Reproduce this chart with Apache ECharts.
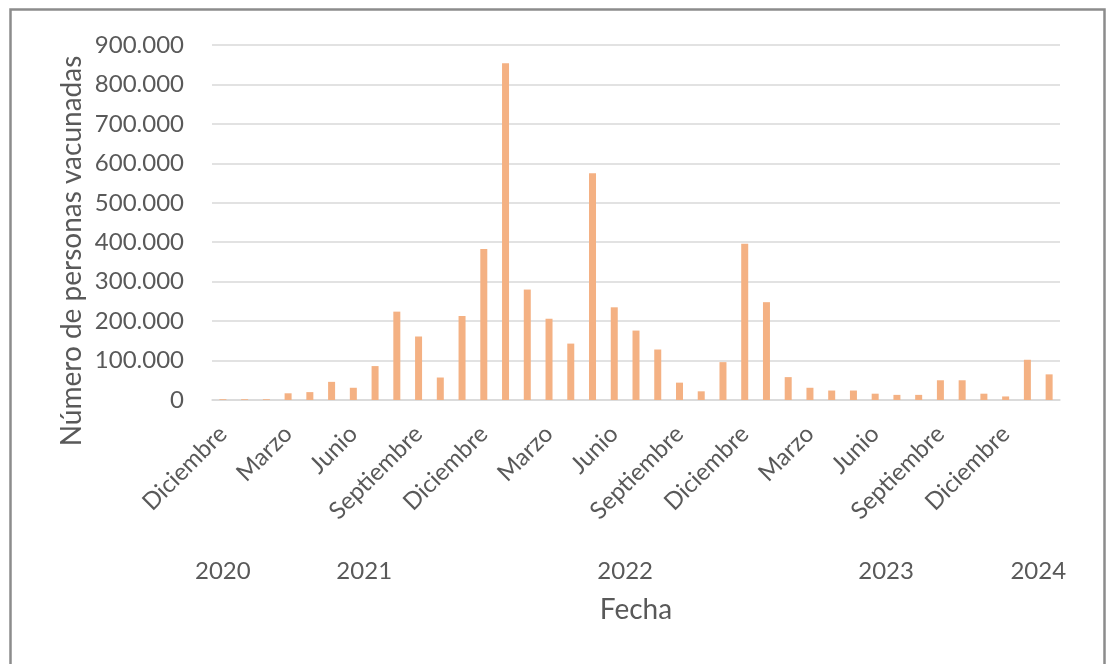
<!DOCTYPE html>
<html>
<head>
<meta charset="utf-8">
<script src="https://cdn.jsdelivr.net/npm/echarts@6/dist/echarts.min.js"></script>
<style>
  html, body { margin: 0; padding: 0; background: #ffffff; }
  #chart { width: 1111px; height: 664px; }
</style>
</head>
<body>
<div id="chart"></div>
<script>
// Monthly categories, December 2020 to February 2024
const months = [
  'Diciembre',
  'Enero', 'Febrero', 'Marzo', 'Abril', 'Mayo', 'Junio', 'Julio', 'Agosto', 'Septiembre', 'Octubre', 'Noviembre', 'Diciembre',
  'Enero', 'Febrero', 'Marzo', 'Abril', 'Mayo', 'Junio', 'Julio', 'Agosto', 'Septiembre', 'Octubre', 'Noviembre', 'Diciembre',
  'Enero', 'Febrero', 'Marzo', 'Abril', 'Mayo', 'Junio', 'Julio', 'Agosto', 'Septiembre', 'Octubre', 'Noviembre', 'Diciembre',
  'Enero', 'Febrero'
];
const monthYears = [
  2020,
  2021, 2021, 2021, 2021, 2021, 2021, 2021, 2021, 2021, 2021, 2021, 2021,
  2022, 2022, 2022, 2022, 2022, 2022, 2022, 2022, 2022, 2022, 2022, 2022,
  2023, 2023, 2023, 2023, 2023, 2023, 2023, 2023, 2023, 2023, 2023, 2023,
  2024, 2024
];

// People vaccinated per month
const vaccinated = [
  2000,
  2000, 2000, 17000, 20000, 46000, 31000, 86000, 224000, 161000, 57000, 213000, 383000,
  854000, 280000, 206000, 143000, 575000, 235000, 176000, 128000, 44000, 22000, 96000, 396000,
  248000, 58000, 31000, 24000, 24000, 16000, 13000, 13000, 50000, 50000, 16000, 9000,
  102000, 65000
];

// Year group labels shown under the month labels
const years = [2020, 2021, 2022, 2023, 2024];

const yTicks = { min: 0, max: 900000, interval: 100000 };

const FONT = 'Lato';
const TEXT = '#595959';
const GRID = '#d9d9d9';
const LABEL_SIZE = 24;
const TITLE_SIZE = 28;

function thousands(v) {
  return String(v).replace(/\B(?=(\d{3})+(?!\d))/g, '.');
}

const chart = echarts.init(document.getElementById('chart'), null, { renderer: 'canvas' });

chart.setOption({
  backgroundColor: '#ffffff',
  animation: false,
  textStyle: { fontFamily: FONT, color: TEXT },
  grid: { left: 212, right: 51, top: 45, bottom: 264, containLabel: false },
  xAxis: {
    type: 'category',
    data: months,
    name: 'Fecha',
    nameLocation: 'middle',
    nameGap: 196,
    nameTextStyle: { fontFamily: FONT, fontSize: TITLE_SIZE, color: TEXT },
    axisLine: { show: true, lineStyle: { color: GRID, width: 1.5 } },
    axisTick: { show: false },
    axisLabel: {
      interval: 2,
      rotate: 45,
      margin: 30,
      fontFamily: FONT,
      fontSize: LABEL_SIZE,
      color: TEXT
    },
    splitLine: { show: false }
  },
  yAxis: {
    type: 'value',
    min: yTicks.min,
    max: yTicks.max,
    interval: yTicks.interval,
    axisLine: { show: false },
    axisTick: { show: false },
    axisLabel: {
      margin: 28,
      fontFamily: FONT,
      fontSize: LABEL_SIZE,
      color: TEXT,
      formatter: thousands
    },
    splitLine: { show: true, lineStyle: { color: GRID, width: 1.5 } }
  },
  series: [{
    type: 'bar',
    data: vaccinated,
    barWidth: 7,
    itemStyle: { color: '#f4b183' }
  }]
});

// Year labels centred under each year's group of months, placed through the axis scale
function yearGraphics() {
  const items = [];
  const baseY = chart.convertToPixel({ yAxisIndex: 0 }, 0);
  years.forEach(function (y) {
    const first = monthYears.indexOf(y);
    const last = monthYears.lastIndexOf(y);
    const x0 = chart.convertToPixel({ xAxisIndex: 0 }, first);
    const x1 = chart.convertToPixel({ xAxisIndex: 0 }, last);
    items.push({
      type: 'text',
      x: (x0 + x1) / 2,
      y: baseY + 171,
      style: {
        text: String(y),
        fontFamily: FONT,
        fontSize: LABEL_SIZE,
        fill: TEXT,
        align: 'center',
        verticalAlign: 'middle'
      }
    });
  });
  // vertical axis title
  items.push({
    type: 'text',
    x: 72,
    y: 251,
    rotation: Math.PI / 2,
    style: {
      text: 'Número de personas vacunadas',
      fontFamily: FONT,
      fontSize: TITLE_SIZE,
      fill: TEXT,
      align: 'center',
      verticalAlign: 'middle'
    }
  });
  // outer chart frame
  items.push({
    type: 'rect',
    shape: { x: 10.5, y: 9.5, width: 1094, height: 700 },
    style: { fill: 'none', stroke: '#8c8c8c', lineWidth: 2.5 },
    silent: true
  });
  return items;
}

chart.setOption({ graphic: yearGraphics() });
</script>
</body>
</html>
